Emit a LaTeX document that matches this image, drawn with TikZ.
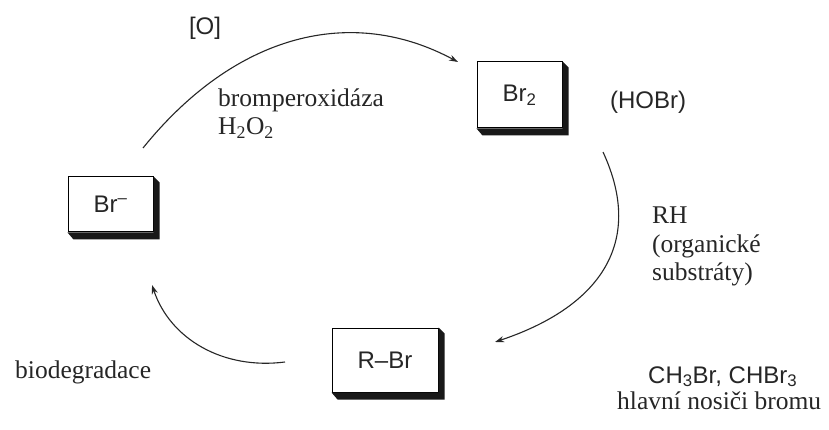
\documentclass[tikz,border=0pt]{standalone}
\usepackage{fontspec}
\setmainfont{Liberation Serif}
\setsansfont{Liberation Sans}
\usetikzlibrary{arrows.meta}
\begin{document}
\begin{tikzpicture}[x=1pt,y=-1pt,
  serif/.style={font=\fontsize{25.5}{29}\selectfont, inner sep=0pt, text=black!85},
  sans/.style={font=\sffamily\fontsize{24}{28}\selectfont, inner sep=0pt, text=black!85},
  species/.style={sans, draw, fill=white, line width=1pt, inner sep=0pt},
  shadowfill/.style={fill=black!90},
  cyc/.style={line width=1.1pt, black!85, -{Stealth[length=9pt,width=6pt]}},
  ]
\useasboundingbox (0,0) rectangle (829,430);
\fill[white] (0,0) rectangle (829,430);

% species boxes with a solid drop shadow
\newcommand\boxshadow[1]{%
  \fill[shadowfill] (#1.north east) -- ([shift={(6,6)}]#1.north east)
    -- ([shift={(6,7)}]#1.south east) -- ([shift={(6,7)}]#1.south west)
    -- (#1.south west) -- (#1.south east) -- cycle;}

\node[species, minimum width=85pt, minimum height=55pt] (bromide) at (110.5,204.5) {Br\textsuperscript{–}};
\boxshadow{bromide}
\node[species, minimum width=85pt, minimum height=66pt] (bromine) at (519.5,95) {Br\textsubscript{2}};
\boxshadow{bromine}
\node[species, minimum width=106pt, minimum height=64pt] (rbr) at (385,360) {R–Br};
\boxshadow{rbr}

% arc end points
\coordinate (oxS) at (143,148);
\coordinate (oxE) at (458,62);
\coordinate (subS) at (603,152);
\coordinate (subE) at (495,342);
\coordinate (degS) at (285,362);
\coordinate (degE) at (152,285);

% cycle arrows
\draw[cyc] (oxS) .. controls (236,33) and (352,5) .. (oxE);
\draw[cyc] (subS) .. controls (646,245) and (597,308) .. (subE);
\draw[cyc] (degS) .. controls (223,370) and (170,339) .. (degE);

% labels
\node[sans] (ox) at (205,28) {[O]};
\node[serif, anchor=base west] (enz) at (218,107) {bromperoxidáza};
\node[serif, anchor=base west] (hp) at (218,135) {H\textsubscript{2}O\textsubscript{2}};
\node[sans] (hobr) at (648,102) {(HOBr)};
\node[serif, anchor=base west] (rh) at (652,224) {RH};
\node[serif, anchor=base west] (org) at (652,252) {(organické};
\node[serif, anchor=base west] (sub) at (652,280) {substráty)};
\node[serif, anchor=base west] (bio) at (15,378) {biodegradace};
\node[sans, anchor=base west] (carr) at (648,383) {CH\textsubscript{3}Br, CHBr\textsubscript{3}};
\node[serif, anchor=base west] (main) at (617,409) {hlavní nosiči bromu};
\end{tikzpicture}
\end{document}
